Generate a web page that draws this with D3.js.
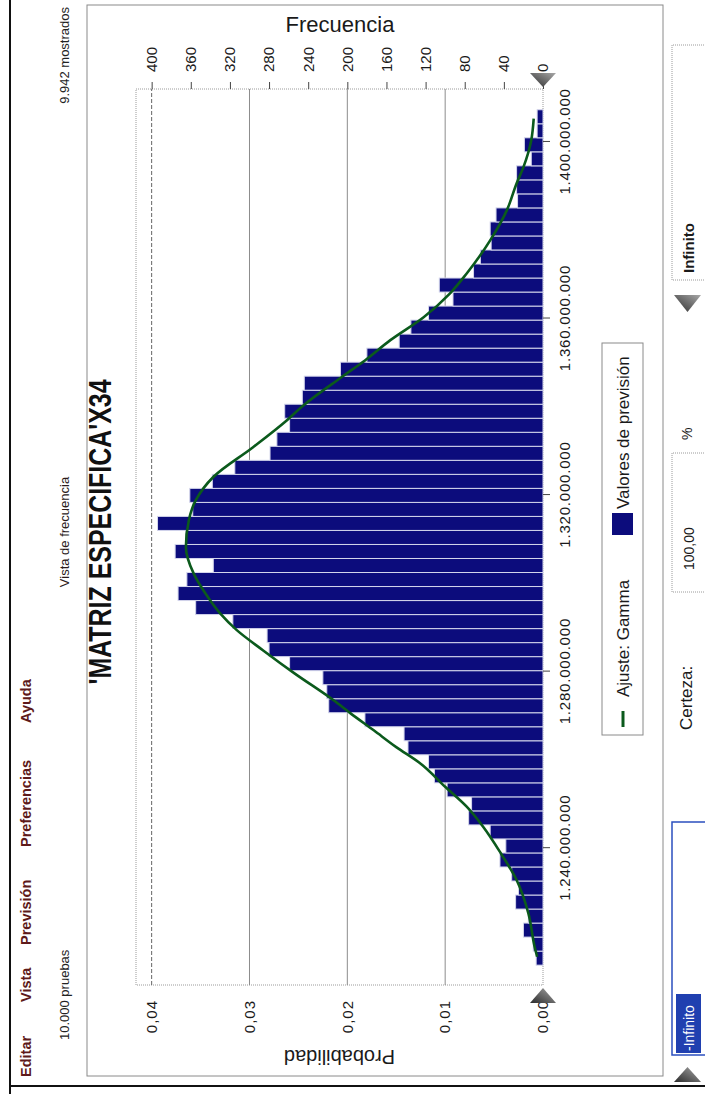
<!DOCTYPE html>
<html>
<head>
<meta charset="utf-8">
<script src="https://cdn.jsdelivr.net/npm/d3@7"></script>
<style>
  html, body { margin: 0; padding: 0; background: #fff; }
  svg { display: block; }
  text { font-family: "Liberation Sans", Arial, sans-serif; }
</style>
</head>
<body>
<svg id="chart" width="705" height="1094"></svg>
<script>
// ---------------- DATA ----------------
const menuItems = ["Editar", "Vista", "Previsión", "Preferencias", "Ayuda"];
const chartTitle = "'MATRIZ ESPECIFICA'X34";
const viewTitle = "Vista de frecuencia";
const trialsText = "10.000 pruebas";
const shownText = "9.942 mostrados";
const probLabel = "Probabilidad";
const freqLabel = "Frecuencia";
const legendLabels = ["Ajuste: Gamma", "Valores de previsión"];

const valueTicks = [1240e6, 1280e6, 1320e6, 1360e6, 1400e6];
const probTicks = [0, 0.01, 0.02, 0.03, 0.04];
const freqTicks = [0, 40, 80, 120, 160, 200, 240, 280, 320, 360, 400];

// histogram: lowest bin edge, bin width, counts (low -> high)
const binStart = 1213.5e6;
const binWidth = 3.177e6;
const counts = [
  7, 10, 20, 15, 28, 25, 32, 44, 38, 54, 76, 73, 98, 111, 117, 138, 142, 182, 219, 221,
  225, 259, 280, 282, 317, 355, 373, 364, 337, 376, 365, 394, 358, 361, 338, 315, 279, 272, 259, 264, 246, 244, 207,
  180, 147, 135, 117, 92, 106, 71, 64, 53, 54, 48, 26, 27, 27, 12, 19, 6, 6
];

// fitted Gamma curve (value in millions, frequency)
const fitValues = [1215.4, 1217.6, 1225.3, 1232.8, 1238.8, 1244.8, 1249.4, 1253.9, 1259.3, 1262.9,
  1266.7, 1270.6, 1273.5, 1279.6, 1284.8, 1289.4, 1293.2, 1297.7, 1302.2, 1308.2, 1314.3, 1318.8,
  1324.1, 1330.9, 1336.9, 1340.3, 1346.7, 1350.5, 1355.1, 1360.3, 1365.7, 1370.2, 1377.7, 1384.5,
  1390.6, 1394.3, 1400.4, 1405.3];
const fitFreq = [6, 8.5, 15, 27, 43, 61, 78, 100, 126, 150,
  173, 197, 214, 254, 286, 313, 330, 345, 357, 365, 362, 355,
  337, 296, 262, 245, 206, 182, 156, 122, 95, 78, 54, 37,
  27, 20, 12, 9.5];

// bottom controls
const lowText = "-Infinito";
const certText = "Certeza:";
const certValue = "100,00";
const pctText = "%";
const highText = "Infinito";

// ---------------- LAYOUT (original, unrotated orientation 1094 x 705) ----------------
const W = 1094, H = 705;
const plot = { left: 109, right: 1005, top: 136, bottom: 543 };
const menuX = [17, 92, 149, 247, 371];

const svg = d3.select("#chart");
// rotate the whole chart 90deg counter-clockwise
const g = svg.append("g").attr("transform", `translate(0,${W}) rotate(-90)`);

const defs = svg.append("defs");
const grad = defs.append("linearGradient").attr("id", "tri").attr("x1", 0).attr("y1", 0).attr("x2", 1).attr("y2", 1);
grad.append("stop").attr("offset", "0%").attr("stop-color", "#2a2a2a");
grad.append("stop").attr("offset", "100%").attr("stop-color", "#a8a8a8");

const x = d3.scaleLinear().domain([1209e6, 1412e6]).range([plot.left, plot.right]);
const yFreq = d3.scaleLinear().domain([0, 416]).range([plot.bottom, plot.top]);
const yProb = d3.scaleLinear().domain([0, 0.0416]).range([plot.bottom, plot.top]);

// frame
g.append("line").attr("x1", 0).attr("x2", W).attr("y1", 10).attr("y2", 10)
  .attr("stroke", "#111").attr("stroke-width", 2);
g.append("line").attr("x1", 8).attr("x2", 8).attr("y1", 10).attr("y2", H)
  .attr("stroke", "#111").attr("stroke-width", 2);
// panel
g.append("rect").attr("x", 18).attr("y", 87).attr("width", 1071).attr("height", 576)
  .attr("fill", "none").attr("stroke", "#8a8a8a").attr("stroke-width", 1);

// menu
g.selectAll("text.menu").data(menuItems).join("text").attr("class", "menu")
  .attr("x", (d, i) => menuX[i]).attr("y", 31)
  .attr("font-family", "DejaVu Sans").attr("font-weight", "bold").attr("font-size", 14.5)
  .attr("fill", "#5e1a1a").text(d => d);

// header texts
g.append("text").attr("x", 54).attr("y", 69).attr("font-size", 13).attr("fill", "#222").text(trialsText);
g.append("text").attr("x", 1087).attr("y", 69).attr("text-anchor", "end").attr("font-size", 13).attr("fill", "#222").text(shownText);
g.append("text").attr("x", 562).attr("y", 69).attr("text-anchor", "middle").attr("font-size", 13).attr("fill", "#2a1a1a").text(viewTitle);
g.append("text").attr("x", 562).attr("y", 100).attr("text-anchor", "middle").attr("dominant-baseline", "central")
  .attr("font-size", 32).attr("font-weight", "bold").attr("textLength", 305).attr("lengthAdjust", "spacingAndGlyphs")
  .attr("fill", "#111").text(chartTitle);

// plot border (dotted)
g.append("rect").attr("x", plot.left).attr("y", plot.top).attr("width", plot.right - plot.left)
  .attr("height", plot.bottom - plot.top).attr("fill", "#fff")
  .attr("stroke", "#9a9a9a").attr("stroke-dasharray", "1,1").attr("stroke-width", 1);

// gridlines
g.selectAll("line.grid").data(probTicks.filter(d => d > 0)).join("line").attr("class", "grid")
  .attr("x1", plot.left).attr("x2", plot.right)
  .attr("y1", d => yProb(d)).attr("y2", d => yProb(d))
  .attr("stroke", d => d === 0.04 ? "#666" : "#8c8c8c").attr("stroke-width", 1)
  .attr("stroke-dasharray", d => d === 0.04 ? "4,2" : null);

// bars
g.selectAll("rect.bar").data(counts).join("rect").attr("class", "bar")
  .attr("x", (d, i) => x(binStart + i * binWidth))
  .attr("width", (d, i) => x(binStart + (i + 1) * binWidth) - x(binStart + i * binWidth))
  .attr("y", d => yFreq(d))
  .attr("height", d => plot.bottom - yFreq(d))
  .attr("fill", "#0c0c7c").attr("stroke", "#d4d6ec").attr("stroke-width", 1);

// fitted curve
const fitPts = fitValues.map((v, i) => [v * 1e6, fitFreq[i]]);
g.append("path").datum(fitPts)
  .attr("d", d3.line().x(d => x(d[0])).y(d => yFreq(d[1])).curve(d3.curveMonotoneX))
  .attr("fill", "none").attr("stroke", "#0b5a1c").attr("stroke-width", 2.6);

// axes
const fmtVal = d => d3.format(",")(d).replace(/,/g, ".");
const gx = g.append("g").attr("transform", `translate(0,${plot.bottom})`)
  .call(d3.axisBottom(x).tickValues(valueTicks).tickSize(7).tickPadding(9).tickFormat(fmtVal));
gx.select(".domain").remove();
gx.selectAll("line").attr("stroke", "#444");
gx.selectAll("text").attr("font-size", 15).attr("letter-spacing", 0.8).attr("fill", "#1a1a1a")
  .attr("font-family", "Liberation Sans, Arial, sans-serif");

const gl = g.append("g").attr("transform", `translate(${plot.left},0)`)
  .call(d3.axisLeft(yProb).tickValues(probTicks).tickSize(0).tickPadding(15)
    .tickFormat(d => d3.format(".2f")(d).replace(".", ",")));
gl.select(".domain").remove();
gl.selectAll("text").attr("font-size", 15).attr("letter-spacing", 1).attr("fill", "#1a1a1a")
  .attr("font-family", "Liberation Sans, Arial, sans-serif");

const gr = g.append("g").attr("transform", `translate(${plot.right},0)`)
  .call(d3.axisRight(yFreq).tickValues(freqTicks).tickSize(7).tickPadding(10));
gr.select(".domain").remove();
gr.selectAll("line").attr("stroke", "#444");
gr.selectAll("text").attr("font-size", 15).attr("fill", "#1a1a1a")
  .attr("font-family", "Liberation Sans, Arial, sans-serif");

// axis titles
g.append("text").attr("transform", `translate(37,${(plot.top + plot.bottom) / 2}) rotate(-90)`)
  .attr("text-anchor", "middle").attr("dominant-baseline", "central")
  .attr("font-size", 20).attr("fill", "#1a1a1a").text(probLabel);
g.append("text").attr("transform", `translate(1070,340) rotate(90)`)
  .attr("text-anchor", "middle").attr("dominant-baseline", "central")
  .attr("font-size", 22).attr("fill", "#1a1a1a").text(freqLabel);

// certainty grabbers on the axis ends
g.append("path").attr("d", `M${plot.left - 18},${plot.bottom - 13} L${plot.left - 18},${plot.bottom + 13} L${plot.left - 3},${plot.bottom} Z`)
  .attr("fill", "url(#tri)");
g.append("path").attr("d", `M${plot.right + 16},${plot.bottom - 13} L${plot.right + 16},${plot.bottom + 13} L${plot.right + 2},${plot.bottom} Z`)
  .attr("fill", "url(#tri)");

// legend
const lg = g.append("g");
lg.append("rect").attr("x", 359).attr("y", 602).attr("width", 392).attr("height", 41)
  .attr("fill", "#fff").attr("stroke", "#8a8a8a");
lg.append("line").attr("x1", 367).attr("x2", 383).attr("y1", 623).attr("y2", 623)
  .attr("stroke", "#0b5a1c").attr("stroke-width", 3);
lg.append("text").attr("x", 397).attr("y", 629).attr("font-size", 17).attr("fill", "#1a1a1a").text(legendLabels[0]);
lg.append("rect").attr("x", 559).attr("y", 612).attr("width", 22).attr("height", 21).attr("fill", "#0c0c7c");
lg.append("text").attr("x", 585).attr("y", 629).attr("font-size", 17).attr("fill", "#1a1a1a").text(legendLabels[1]);

// bottom controls
g.append("path").attr("d", "M12,674 L12,701 L27,687.5 Z").attr("fill", "url(#tri)");
g.append("rect").attr("x", 39).attr("y", 672).attr("width", 233).attr("height", 40)
  .attr("fill", "#fff").attr("stroke", "#2b4fbf").attr("stroke-width", 1.5);
g.append("rect").attr("x", 41).attr("y", 676).attr("width", 59).attr("height", 25).attr("fill", "#2040b0");
g.append("text").attr("x", 43).attr("y", 694).attr("font-size", 14).attr("fill", "#fff").text(lowText);
g.append("text").attr("x", 364).attr("y", 692).attr("font-size", 17).attr("fill", "#1a1a1a").text(certText);
g.append("rect").attr("x", 502).attr("y", 672).attr("width", 139).attr("height", 40)
  .attr("fill", "#fff").attr("stroke", "#9a9a9a").attr("stroke-dasharray", "1,1");
g.append("text").attr("x", 524).attr("y", 694).attr("font-size", 14).attr("fill", "#1a1a1a").text(certValue);
g.append("text").attr("x", 654).attr("y", 692).attr("font-size", 14).attr("fill", "#1a1a1a").text(pctText);
g.append("path").attr("d", "M799,674 L799,701 L782,687.5 Z").attr("fill", "url(#tri)");
g.append("rect").attr("x", 814).attr("y", 672).attr("width", 235).attr("height", 40)
  .attr("fill", "#fff").attr("stroke", "#9a9a9a").attr("stroke-dasharray", "1,1");
g.append("text").attr("x", 821).attr("y", 694).attr("font-size", 15).attr("font-weight", "bold").attr("fill", "#1a1a1a").text(highText);
</script>
</body>
</html>
